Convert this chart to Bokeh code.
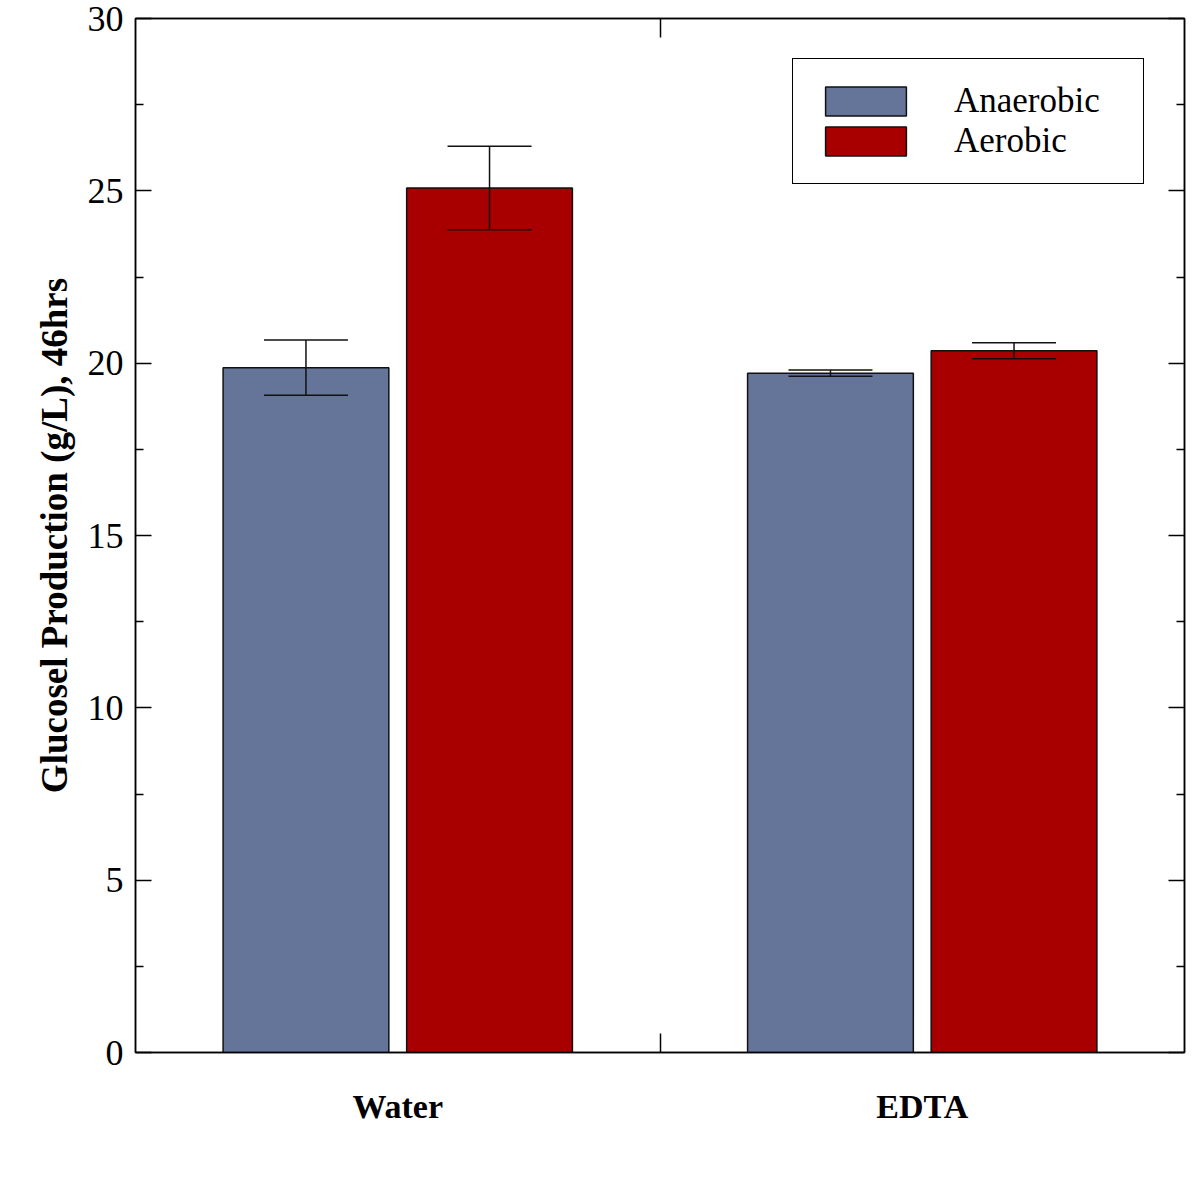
from bokeh.plotting import figure
from bokeh.models import (ColumnDataSource, Range1d, LinearAxis, FixedTicker,
                          Whisker, TeeHead, Legend, LegendItem)
from bokeh.transform import dodge
from bokeh.embed import file_html
from bokeh.resources import INLINE

# ---- data ----
groups = ["Water", "EDTA"]
anaerobic = [19.87, 19.71]
anaerobic_err = [0.80, 0.09]
aerobic = [25.08, 20.36]
aerobic_err = [1.21, 0.23]
y_ticks = [0, 5, 10, 15, 20, 25, 30]
y_label = "Glucosel Production (g/L), 46hrs"
series_names = ["Anaerobic", "Aerobic"]

xc = [i + 0.5 for i in range(len(groups))]
src = ColumnDataSource(dict(
    x=xc, an=anaerobic, ae=aerobic,
    an_lo=[v - e for v, e in zip(anaerobic, anaerobic_err)],
    an_hi=[v + e for v, e in zip(anaerobic, anaerobic_err)],
    ae_lo=[v - e for v, e in zip(aerobic, aerobic_err)],
    ae_hi=[v + e for v, e in zip(aerobic, aerobic_err)],
))

FONT = "Liberation Serif"
BLUE = "#657499"
RED = "#A80000"
EDGE = "#111111"

p = figure(frame_width=1049, frame_height=1034, output_backend="svg", toolbar_location=None,
           x_range=Range1d(0, len(groups)), y_range=Range1d(0, 30),
           x_axis_location=None, y_axis_location=None,
           min_border_left=135, min_border_right=14, min_border_top=18, min_border_bottom=143)
p.xgrid.visible = False
p.ygrid.visible = False
p.outline_line_color = "black"
p.outline_line_width = 1.5
p.background_fill_color = "white"
p.border_fill_color = "white"

w = 0.316
off = 0.175
r_an = p.vbar(x=dodge("x", -off), top="an", bottom=0, width=w, source=src,
              fill_color=BLUE, line_color=EDGE, line_width=1.5)
r_ae = p.vbar(x=dodge("x", off), top="ae", bottom=0, width=w, source=src,
              fill_color=RED, line_color=EDGE, line_width=1.5)

for key, o in (("an", -off), ("ae", off)):
    wh = Whisker(source=src, base=dodge("x", o), lower=key + "_lo", upper=key + "_hi",
                 line_color=EDGE, line_width=1.5, level="overlay",
                 upper_head=TeeHead(size=84, line_color=EDGE, line_width=1.5),
                 lower_head=TeeHead(size=84, line_color=EDGE, line_width=1.5))
    p.add_layout(wh)

def style_y(ax, labels=True):
    ax.ticker = FixedTicker(ticks=y_ticks, minor_ticks=[t + 2.5 for t in y_ticks[:-1]])
    ax.major_tick_in = 16
    ax.major_tick_out = 0
    ax.minor_tick_in = 8
    ax.minor_tick_out = 0
    ax.axis_line_color = "black"
    ax.axis_line_width = 1.5
    ax.major_tick_line_width = 1.5
    ax.minor_tick_line_width = 1.5
    ax.major_label_text_font = FONT
    ax.major_label_text_font_size = "36px"
    ax.major_label_text_color = "black"
    ax.major_label_standoff = 12
    if not labels:
        ax.major_label_overrides = {t: "" for t in y_ticks}
        ax.major_label_standoff = 0

yl = LinearAxis(axis_label=y_label)
style_y(yl)
yl.axis_label_text_font = FONT
yl.axis_label_text_font_style = "bold"
yl.axis_label_text_font_size = "37px"
yl.axis_label_text_color = "black"
yl.axis_label_standoff = 10
p.add_layout(yl, "left")

yr = LinearAxis()
style_y(yr, labels=False)
p.add_layout(yr, "right")

def style_x(ax, major):
    ax.ticker = FixedTicker(ticks=major, minor_ticks=[1.0])
    ax.major_tick_in = 0
    ax.major_tick_out = 0
    ax.minor_tick_in = 19
    ax.minor_tick_out = 0
    ax.minor_tick_line_width = 1.5
    ax.axis_line_color = "black"
    ax.axis_line_width = 1.5
    ax.major_label_text_font = FONT
    ax.major_label_text_font_style = "bold"
    ax.major_label_text_font_size = "34px"
    ax.major_label_text_color = "black"
    ax.major_label_standoff = 35

xb = LinearAxis()
style_x(xb, xc)
xb.major_label_overrides = {x: g for x, g in zip(xc, groups)}
p.add_layout(xb, "below")
xt = LinearAxis()
style_x(xt, [])
xt.major_label_standoff = 0
p.add_layout(xt, "above")

legend = Legend(items=[LegendItem(label=series_names[0], renderers=[r_an]),
                       LegendItem(label=series_names[1], renderers=[r_ae])],
                location="top_right")
legend.margin = 40
legend.padding = 22
legend.spacing = 0
legend.glyph_width = 101
legend.glyph_height = 36
legend.label_standoff = 38
legend.label_width = 167
legend.label_text_font = FONT
legend.label_text_font_size = "35px"
legend.label_text_color = "black"
legend.border_line_color = "black"
legend.border_line_alpha = 1.0
legend.border_line_width = 1.5
legend.background_fill_alpha = 1.0
p.add_layout(legend, "center")

open("out.html", "w").write(file_html(p, INLINE))
